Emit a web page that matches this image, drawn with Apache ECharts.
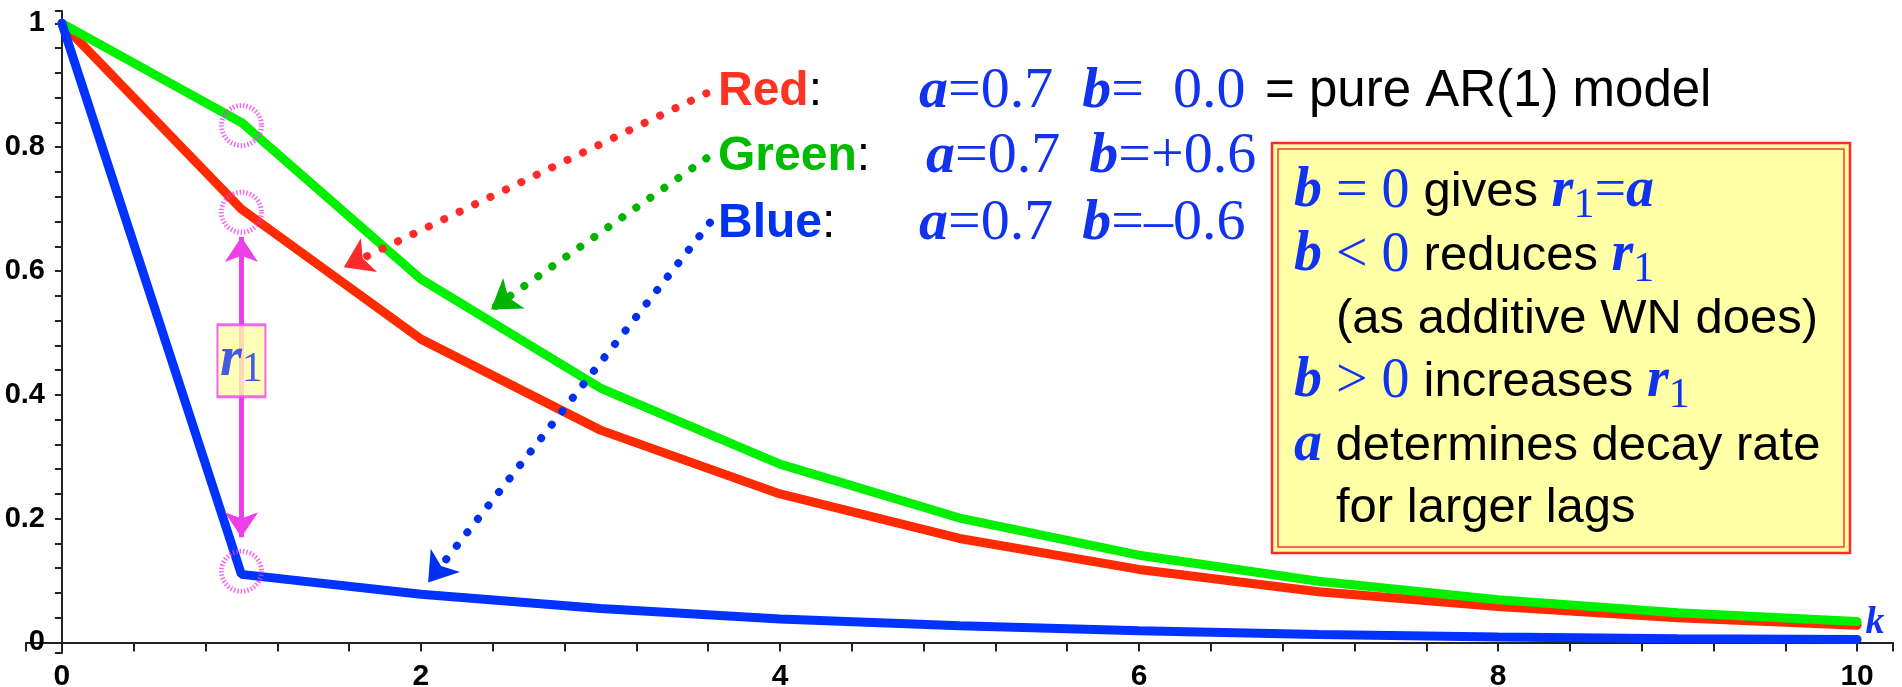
<!DOCTYPE html>
<html>
<head>
<meta charset="utf-8">
<script src="https://cdn.jsdelivr.net/npm/echarts@6/dist/echarts.min.js"></script>
<style>
  html, body { margin: 0; padding: 0; background: #fff; }
  #main { width: 1902px; height: 687px; }
</style>
</head>
<body>
<div id="main"></div>
<script>
// lag k and the autocorrelations
var lags     = [0, 1, 2, 3, 4, 5, 6, 7, 8, 9, 10];
var redAcf   = [1, 0.70, 0.49, 0.343, 0.24, 0.168, 0.118, 0.082, 0.058, 0.040, 0.028];
var greenAcf = [1, 0.84, 0.587, 0.411, 0.288, 0.201, 0.141, 0.099, 0.069, 0.048, 0.034];
var blueAcf  = [1, 0.11, 0.078, 0.055, 0.038, 0.027, 0.019, 0.013, 0.009, 0.006, 0.005];

// axis ticks / labels
var xTicks  = [-0.2, 0, 0.4, 0.8, 1.2, 1.6, 2, 2.4, 2.8, 3.2, 3.6, 4, 4.4, 4.8, 5.2, 5.6, 6, 6.4, 6.8, 7.2, 7.6, 8, 8.4, 8.8, 9.2, 9.6, 10, 10.2];
var xLabels = [0, 2, 4, 6, 8, 10];
var yTicks  = [-0.017, 0, 0.04, 0.08, 0.12, 0.16, 0.2, 0.24, 0.28, 0.32, 0.36, 0.4, 0.44, 0.48, 0.52, 0.56, 0.6, 0.64, 0.68, 0.72, 0.76, 0.8, 0.84, 0.88, 0.92, 0.96, 1, 1.02];
var yLabels = [0, 0.2, 0.4, 0.6, 0.8, 1];

// annotation pointers (data coords)
var redPointer   = [[3.59, 0.887], [1.57, 0.606]];
var greenPointer = [[3.59, 0.782], [2.39, 0.538]];
var bluePointer  = [[3.61, 0.678], [2.04, 0.097]];
var r1Arrow      = [[1, 0.655], [1, 0.17]];
var r1Marks      = [[1, 0.835], [1, 0.695], [1, 0.115]];
var r1Box        = [1, 0.455];

function pairs(xs, ys) {
  return xs.map(function (x, i) { return [x, ys[i]]; });
}

var SERIF = '"Liberation Serif", "Times New Roman", serif';
var SANS = '"Liberation Sans", Arial, sans-serif';
var NARROW = '"Liberation Sans Narrow", "Liberation Sans", sans-serif';
var MBLUE = '#1133ee';

var rich = {
  R:  { fontFamily: SANS, fontWeight: 'bold', fontSize: 48, fill: '#ff3322', lineHeight: 70 },
  G:  { fontFamily: SANS, fontWeight: 'bold', fontSize: 48, fill: '#00bb00', lineHeight: 70 },
  B:  { fontFamily: SANS, fontWeight: 'bold', fontSize: 48, fill: '#0033ee', lineHeight: 70 },
  c:  { fontFamily: SANS, fontSize: 48, fill: '#000', lineHeight: 70 },
  t:  { fontFamily: SANS, fontSize: 49, fill: '#000', lineHeight: 70 },
  p:  { fontFamily: SANS, fontSize: 51, fill: '#000', lineHeight: 70 },
  mb: { fontFamily: SERIF, fontStyle: 'italic', fontWeight: 'bold', fontSize: 58, fill: MBLUE, lineHeight: 70 },
  mr: { fontFamily: SERIF, fontSize: 58, fill: MBLUE, lineHeight: 70 },
  kb: { fontFamily: SERIF, fontStyle: 'italic', fontWeight: 'bold', fontSize: 56, fill: MBLUE, lineHeight: 70 },
  kr: { fontFamily: SERIF, fontSize: 56, fill: MBLUE, lineHeight: 70 },
  s:  { fontFamily: SERIF, fontSize: 42, fill: MBLUE, lineHeight: 38, verticalAlign: 'bottom' }
};

function txt(x, y, text) {
  return { type: 'text', x: x, y: y, z: 100,
    style: { text: text, rich: rich, verticalAlign: 'middle', align: 'left' } };
}

var myChart = echarts.init(document.getElementById('main'));

var option = {
  animation: false,
  backgroundColor: '#fff',
  grid: { left: 26, right: 9, top: 11, bottom: 34, outerBoundsMode: 'none' },
  xAxis: {
    type: 'value', min: -0.2, max: 10.2,
    axisLine: { onZero: true, lineStyle: { color: '#222', width: 2 } },
    axisTick: { customValues: xTicks, length: 9, lineStyle: { color: '#222', width: 2 } },
    axisLabel: { customValues: xLabels, margin: 9, color: '#000', fontSize: 30,
      fontWeight: 'bold', fontFamily: NARROW },
    splitLine: { show: false },
    name: 'k', nameLocation: 'end', nameGap: -18,
    nameTextStyle: { fontFamily: SERIF, fontStyle: 'italic', fontWeight: 'bold', fontSize: 38,
      color: MBLUE, align: 'center', verticalAlign: 'bottom' }
  },
  yAxis: {
    type: 'value', min: -0.017, max: 1.02,
    axisLine: { onZero: true, lineStyle: { color: '#222', width: 2 } },
    axisTick: { customValues: yTicks, length: 7, lineStyle: { color: '#222', width: 2 } },
    axisLabel: { customValues: yLabels, margin: -19, color: '#000', fontSize: 29,
      fontWeight: 'bold', fontFamily: NARROW,
      formatter: function (v) { return v === 1 ? '1' : v === 0 ? '0' : String(v); } },
    splitLine: { show: false }
  },
  series: [
    { name: 'Red', type: 'line', data: pairs(lags, redAcf), symbol: 'none', z: 3,
      lineStyle: { color: '#ff2a00', width: 9, cap: 'round' } },
    { name: 'Green', type: 'line', data: pairs(lags, greenAcf), symbol: 'none', z: 4,
      lineStyle: { color: '#00f000', width: 9, cap: 'round' } },
    { name: 'Blue', type: 'line', data: pairs(lags, blueAcf), symbol: 'none', z: 5,
      lineStyle: { color: '#0033ff', width: 9, cap: 'round' } },
    { type: 'lines', coordinateSystem: 'cartesian2d', z: 6,
      symbol: ['none', 'arrow'], symbolSize: 28,
      data: [
        { coords: redPointer, lineStyle: { color: '#ff2a2a' } },
        { coords: greenPointer, lineStyle: { color: '#00b400' } },
        { coords: bluePointer, lineStyle: { color: '#0030ee' } }
      ],
      lineStyle: { width: 8, type: [0.1, 17], cap: 'round', opacity: 1 } },
    { type: 'lines', coordinateSystem: 'cartesian2d', z: 7,
      symbol: ['arrow', 'arrow'], symbolSize: 25,
      data: [{ coords: r1Arrow }],
      lineStyle: { color: '#ee3ee8', width: 5, opacity: 1 } },
    { type: 'scatter', z: 8, data: r1Marks, symbol: 'circle', symbolSize: 40,
      itemStyle: { color: 'rgba(0,0,0,0)', borderColor: '#f03cf0', borderWidth: 5, borderType: [1.4, 2] } },
    { type: 'scatter', z: 9, data: [r1Box], symbol: 'rect', symbolSize: [48, 72],
      itemStyle: { color: '#ffffa8', borderColor: '#ee44ee', borderWidth: 2.5 },
      label: { show: true, position: 'inside', formatter: '{r|r}{s|1}',
        rich: {
          r: { fontFamily: SERIF, fontStyle: 'italic', fontWeight: 'bold', fontSize: 56, color: MBLUE, lineHeight: 60 },
          s: { fontFamily: SERIF, fontSize: 42, color: MBLUE, lineHeight: 34, verticalAlign: 'bottom' }
        } } }
  ],
  graphic: [
    txt(718, 92, '{R|Red}{c|:}'),
    txt(919, 92, '{mb|a}{mr|=0.7  }{mb|b}{mr|=  0.0}'),
    txt(1265, 92, '{p|= pure AR(1) model}'),
    txt(718, 157, '{G|Green}{c|:}'),
    txt(926, 157, '{mb|a}{mr|=0.7  }{mb|b}{mr|=+0.6}'),
    txt(718, 224, '{B|Blue}{c|:}'),
    txt(919, 224, '{mb|a}{mr|=0.7  }{mb|b}{mr|=\u20130.6}'),
    { type: 'rect', z: 90, shape: { x: 1272, y: 143, width: 578, height: 410 },
      style: { fill: '#ffffa6', stroke: '#ff2a2a', lineWidth: 2.5 } },
    { type: 'rect', z: 91, shape: { x: 1278, y: 149, width: 566, height: 398 },
      style: { fill: 'none', stroke: '#ff3a3a', lineWidth: 1.5 } },
    txt(1294, 192, '{kb|b}{kr| = 0 }{t|gives }{kb|r}{s|1}{kr|=}{kb|a}'),
    txt(1294, 256, '{kb|b}{kr| < 0 }{t|reduces }{kb|r}{s|1}'),
    txt(1336, 319, '{t|(as additive WN does)}'),
    txt(1294, 382, '{kb|b}{kr| > 0 }{t|increases }{kb|r}{s|1}'),
    txt(1294, 446, '{kb|a}{t| determines decay rate}'),
    txt(1336, 508, '{t|for larger lags}')
  ]
};

myChart.setOption(option);
</script>
</body>
</html>
